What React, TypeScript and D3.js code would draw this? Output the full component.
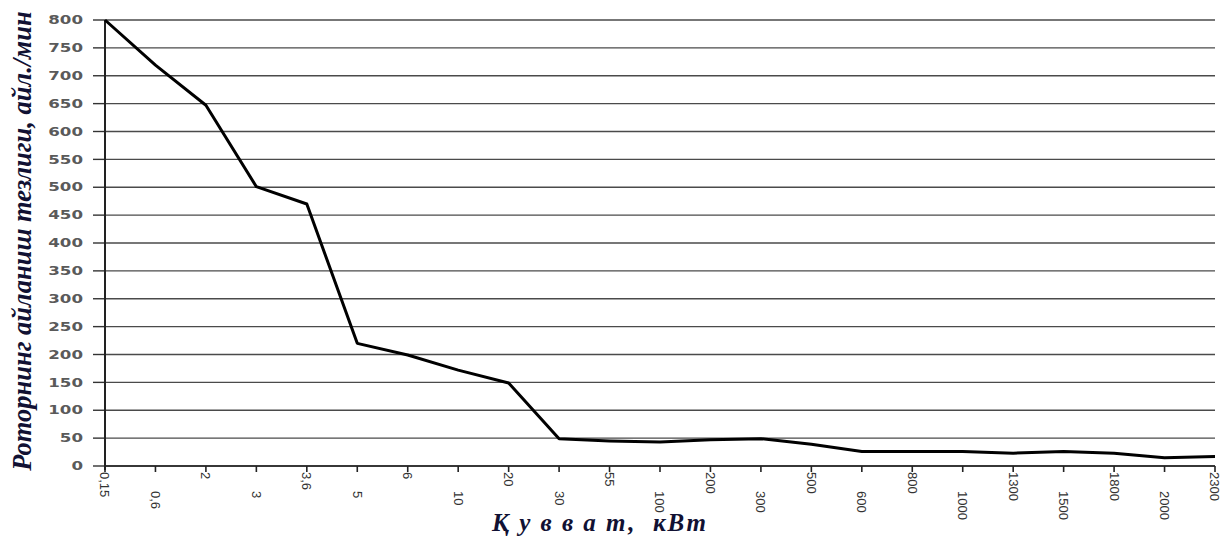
import React from "react";
import * as d3 from "d3";

const W = 1225;
const H = 539;

// power, kW (category labels as printed)
const categories = [
  "0,15", "0,6", "2", "3", "3,6", "5", "6", "10", "20", "30", "55", "100",
  "200", "300", "500", "600", "800", "1000", "1300", "1500", "1800", "2000", "2300",
];
// rotor speed, rev/min
const speeds = [
  800, 719, 647, 501, 470, 220, 199, 172, 149, 49, 45, 43,
  47, 49, 39, 26, 26, 26, 23, 26, 23, 15, 17,
];
const yTicks = d3.range(0, 801, 50);

const yTitle = "Роторнинг айланиш тезлиги, айл./мин";
const xTitle = "Қ у в в а т,  кВт";

const margin = { left: 105, right: 10, top: 20, bottom: 73 };

const App = () => {
  React.useEffect(() => {
    document.body.style.margin = "0";
  }, []);

  const x = d3
    .scalePoint<string>()
    .domain(categories)
    .range([margin.left, W - margin.right]);
  const y = d3
    .scaleLinear()
    .domain([0, 800])
    .range([H - margin.bottom, margin.top]);

  const line = d3
    .line<number>()
    .x((_, i) => x(categories[i]) as number)
    .y((d) => y(d));

  const x0 = margin.left;
  const x1 = W - margin.right;
  const yBase = y(0);

  return (
    <svg width={W} height={H} style={{ display: "block", background: "#fff" }}>
      {/* grid */}
      {yTicks.map((t) => (
        <g key={t}>
          <line x1={x0} x2={x1} y1={y(t)} y2={y(t)} stroke="#4a4a4a" strokeWidth={1.4} />
          <line x1={x0 - 12} x2={x0} y1={y(t)} y2={y(t)} stroke="#333" strokeWidth={1.4} />
          <text
            transform={`translate(${x0 - 22},${y(t)}) scale(1.45,1)`}
            dy="0.36em"
            textAnchor="end"
            fontFamily="DejaVu Sans"
            fontWeight="bold"
            fontSize={11.5}
            fill="#5a5a5a"
          >
            {t}
          </text>
        </g>
      ))}
      {/* axes */}
      <line x1={x0} x2={x0} y1={y(800)} y2={yBase + 4} stroke="#222" strokeWidth={2} />
      <line x1={x0} x2={x1} y1={yBase} y2={yBase} stroke="#222" strokeWidth={1.6} />
      {categories.map((c, i) => (
        <g key={c}>
          <line
            x1={x(c)}
            x2={x(c)}
            y1={yBase}
            y2={yBase + 6}
            stroke="#222"
            strokeWidth={1.6}
          />
          <text
            transform={`translate(${x(c)},${yBase + (i % 2 === 0 ? 6 : 25)}) rotate(90)`}
            dy="0.35em"
            textAnchor="start"
            fontFamily="Liberation Sans"
            fontSize={13}
            fill="#333"
          >
            {c}
          </text>
        </g>
      ))}
      {/* data */}
      <path
        d={line(speeds) || ""}
        fill="none"
        stroke="#000"
        strokeWidth={3}
        strokeLinejoin="round"
      />
      {/* titles */}
      <text
        transform={`translate(31,${(margin.top + yBase) / 2 - 2}) rotate(-90)`}
        textAnchor="middle"
        fontFamily="Liberation Serif"
        fontWeight="bold"
        fontStyle="italic"
        fontSize={26.5}
        fill="#111133"
      >
        {yTitle}
      </text>
      <text
        x={600}
        y={531}
        textAnchor="middle"
        fontFamily="Liberation Serif"
        fontWeight="bold"
        fontStyle="italic"
        fontSize={25}
        letterSpacing={2}
        fill="#111133"
        style={{ whiteSpace: "pre" }}
      >
        {xTitle}
      </text>
    </svg>
  );
};

export default App;
